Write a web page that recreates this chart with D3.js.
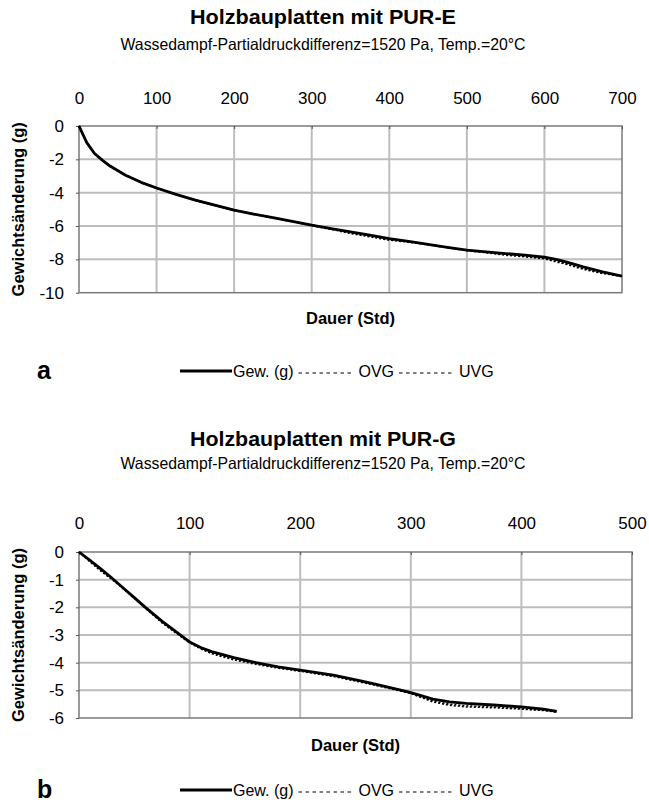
<!DOCTYPE html>
<html><head><meta charset="utf-8">
<script src="https://cdn.jsdelivr.net/npm/d3@7"></script>
<style>body{margin:0;background:#fff}svg{display:block}text{font-family:"Liberation Sans",Arial,sans-serif;fill:#000}</style>
</head><body>
<script>
// ---- Panel a: Holzbauplatten mit PUR-E ----
const hoursA = [0,5,10,20,30,40,60,80,100,125,150,175,200,225,250,275,300,325,350,375,400,425,450,475,500,525,550,575,600,615,630,650,675,700];
const gewA   = [0,-0.5,-1.0,-1.65,-2.05,-2.4,-2.95,-3.38,-3.72,-4.1,-4.45,-4.75,-5.05,-5.28,-5.5,-5.72,-5.95,-6.15,-6.35,-6.55,-6.75,-6.92,-7.1,-7.28,-7.45,-7.55,-7.65,-7.75,-7.87,-8.0,-8.18,-8.45,-8.75,-9.0];
const ovgA   = [0,-0.52,-1.03,-1.67,-2.07,-2.42,-2.97,-3.4,-3.74,-4.12,-4.47,-4.77,-5.07,-5.3,-5.52,-5.74,-5.98,-6.2,-6.45,-6.65,-6.85,-6.97,-7.13,-7.3,-7.48,-7.6,-7.75,-7.85,-7.97,-8.15,-8.32,-8.6,-8.85,-9.02];
const uvgA   = [0,-0.48,-0.98,-1.63,-2.03,-2.38,-2.93,-3.36,-3.7,-4.08,-4.43,-4.73,-5.03,-5.27,-5.49,-5.71,-5.94,-6.14,-6.4,-6.6,-6.8,-6.93,-7.1,-7.28,-7.45,-7.58,-7.7,-7.8,-7.92,-8.08,-8.28,-8.55,-8.8,-9.0];
const xTicksA = [0,100,200,300,400,500,600,700];
const yTicksA = [0,-2,-4,-6,-8,-10];

// ---- Panel b: Holzbauplatten mit PUR-G ----
const hoursB = [0,10,20,30,40,50,60,75,90,100,110,120,140,160,180,200,230,260,290,300,310,320,335,350,375,400,420,432];
const gewB   = [0,-0.3,-0.62,-0.95,-1.3,-1.65,-2.0,-2.5,-2.95,-3.25,-3.45,-3.6,-3.82,-4.0,-4.15,-4.27,-4.45,-4.7,-4.98,-5.08,-5.2,-5.32,-5.42,-5.47,-5.53,-5.6,-5.68,-5.76];
const ovgB   = [0,-0.36,-0.7,-1.0,-1.33,-1.67,-2.03,-2.56,-3.0,-3.28,-3.5,-3.68,-3.9,-4.06,-4.2,-4.31,-4.5,-4.75,-5.02,-5.11,-5.27,-5.42,-5.54,-5.6,-5.63,-5.68,-5.73,-5.79];
const uvgB   = [0,-0.32,-0.66,-0.97,-1.31,-1.66,-2.02,-2.54,-2.98,-3.27,-3.48,-3.65,-3.86,-4.03,-4.18,-4.29,-4.48,-4.72,-5.0,-5.1,-5.24,-5.38,-5.5,-5.56,-5.6,-5.66,-5.72,-5.78];
const xTicksB = [0,100,200,300,400,500];
const yTicksB = [0,-1,-2,-3,-4,-5,-6];

const titles = ["Holzbauplatten mit PUR-E","Holzbauplatten mit PUR-G"];
const subtitle = "Wassedampf-Partialdruckdifferenz=1520 Pa, Temp.=20°C";
const xTitle = "Dauer (Std)";
const yTitle = "Gewichtsänderung (g)";
const panelLetters = ["a","b"];
const seriesNames = ["Gew. (g)","OVG","UVG"];

const svg = d3.select("body").append("svg").attr("width",649).attr("height",805);
svg.append("rect").attr("width",649).attr("height",805).attr("fill","#fff");

function panel(cfg){
  const g = svg.append("g");
  const x = d3.scaleLinear().domain(cfg.xDomain).range([cfg.left,cfg.right]);
  const y = d3.scaleLinear().domain(cfg.yDomain).range([cfg.top,cfg.bottom]);

  g.append("text").attr("x",323).attr("y",cfg.titleY).attr("text-anchor","middle")
    .attr("font-size",21).attr("font-weight","bold")
    .attr("textLength",266).attr("lengthAdjust","spacingAndGlyphs").text(cfg.title);
  g.append("text").attr("x",323).attr("y",cfg.subY).attr("text-anchor","middle")
    .attr("font-size",16.5).attr("textLength",405).attr("lengthAdjust","spacingAndGlyphs").text(subtitle);

  // grid
  g.append("g").selectAll("line.v").data(cfg.xTicks.slice(1,-1)).join("line")
    .attr("x1",d=>x(d)).attr("x2",d=>x(d)).attr("y1",cfg.top).attr("y2",cfg.bottom)
    .attr("stroke","#bdbdbd").attr("stroke-width",2);
  g.append("g").selectAll("line.h").data(cfg.yTicks.slice(1,-1)).join("line")
    .attr("x1",cfg.left).attr("x2",cfg.right).attr("y1",d=>y(d)).attr("y2",d=>y(d))
    .attr("stroke","#bdbdbd").attr("stroke-width",2);
  g.append("rect").attr("x",cfg.left).attr("y",cfg.top).attr("width",cfg.right-cfg.left)
    .attr("height",cfg.bottom-cfg.top).attr("fill","none").attr("stroke","#7a7a7a").attr("stroke-width",1.5);

  // axes
  const xa = g.append("g").attr("transform",`translate(0,${cfg.top})`)
    .call(d3.axisTop(x).tickValues(cfg.xTicks).tickSize(-3).tickPadding(cfg.top-cfg.tickY+2));
  xa.select(".domain").remove();
  xa.selectAll("line").attr("stroke","#555");
  xa.selectAll("text").attr("font-size",17).attr("font-family","Liberation Sans, Arial, sans-serif");
  const ya = g.append("g").attr("transform",`translate(${cfg.left},0)`)
    .call(d3.axisLeft(y).tickValues(cfg.yTicks).tickSize(3).tickPadding(12).tickFormat(d3.format("d")));
  ya.select(".domain").remove();
  ya.selectAll("line").attr("stroke","#555");
  ya.selectAll("text").attr("font-size",17).attr("font-family","Liberation Sans, Arial, sans-serif")
    .text(d=>String(d).replace("−","-"));

  g.append("text").attr("transform",`translate(24,${(cfg.top+cfg.bottom)/2}) rotate(-90)`)
    .attr("text-anchor","middle").attr("font-size",16.5).attr("font-weight","bold").text(yTitle);
  g.append("text").attr("x",(cfg.left+cfg.right)/2).attr("y",cfg.xTitleY).attr("text-anchor","middle")
    .attr("font-size",16.5).attr("font-weight","bold").text(xTitle);

  const line = d3.line().x((d,i)=>x(cfg.hours[i])).y(d=>y(d));
  g.append("path").datum(cfg.gew).attr("d",line).attr("fill","none").attr("stroke","#000")
    .attr("stroke-width",2.8).attr("stroke-linejoin","round");
  [cfg.ovg,cfg.uvg].forEach(s=>{
    g.append("path").datum(s).attr("d",line).attr("fill","none").attr("stroke","#000")
      .attr("stroke-width",1.5).attr("stroke-dasharray","2,2");
  });

  // legend
  g.append("text").attr("x",37).attr("y",cfg.legY+8).attr("font-size",25).attr("font-weight","bold").text(cfg.letter);
  let cx = 180;
  g.append("line").attr("x1",cx).attr("x2",cx+52).attr("y1",cfg.legY).attr("y2",cfg.legY)
    .attr("stroke","#000").attr("stroke-width",2.8);
  cx += 53;
  seriesNames.forEach((n,i)=>{
    if(i>0){
      g.append("line").attr("x1",cx+5).attr("x2",cx+58).attr("y1",cfg.legY+2).attr("y2",cfg.legY+2)
        .attr("stroke","#000").attr("stroke-width",1.2).attr("stroke-dasharray","3.5,3.5");
      cx += 65;
    }
    const t = g.append("text").attr("x",cx).attr("y",cfg.legY+6).attr("font-size",16).text(n);
    cx += t.node().getComputedTextLength();
  });
}

panel({title:titles[0],letter:panelLetters[0],hours:hoursA,gew:gewA,ovg:ovgA,uvg:uvgA,
  xDomain:[0,700],yDomain:[0,-10],xTicks:xTicksA,yTicks:yTicksA,
  left:79,right:622,top:126,bottom:292.7,titleY:24,subY:50,tickY:106,xTitleY:324,legY:371});
panel({title:titles[1],letter:panelLetters[1],hours:hoursB,gew:gewB,ovg:ovgB,uvg:uvgB,
  xDomain:[0,500],yDomain:[0,-6],xTicks:xTicksB,yTicks:yTicksB,
  left:79,right:632,top:552,bottom:718,titleY:446,subY:469,tickY:531,xTitleY:751,legY:790});
</script>
</body></html>
